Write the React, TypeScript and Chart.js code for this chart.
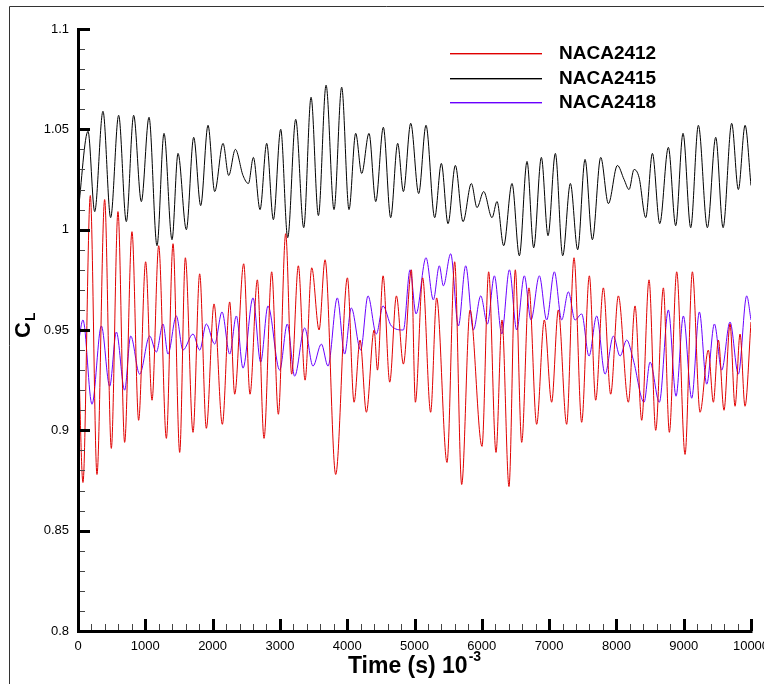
import React, { useEffect, useRef } from "react";
import { Chart, registerables } from "chart.js";

Chart.register(...registerables);

const seriesLabels = ["NACA2412", "NACA2415", "NACA2418"];
const seriesColors = ["#e00000", "#000000", "#6a00ff"];

const xTitle = "Time (s) 10";
const xTitleExp = "-3";
const yTitle = "C";
const yTitleSub = "L";

const naca2412Time = [
  0, 74, 183, 282, 396, 495, 594, 693, 802, 901,
  1005, 1100, 1199, 1313, 1412, 1511, 1595, 1709, 1808, 1907,
  2021, 2145, 2254, 2328, 2462, 2556, 2665, 2764, 2878, 2977,
  3086, 3175, 3274, 3374, 3473, 3582, 3671, 3829, 4003, 4102,
  4191, 4285, 4400, 4450, 4533, 4632, 4731, 4835, 4954, 5013,
  5121, 5240, 5329, 5483, 5597, 5701, 5825, 6003, 6102, 6211,
  6300, 6404, 6498, 6593, 6701, 6815, 6929, 7038, 7137, 7261,
  7370, 7484, 7598, 7692, 7806, 7915, 8029, 8178, 8277, 8376,
  8485, 8584, 8698, 8787, 8896, 9020, 9129, 9243, 9366, 9441,
  9515, 9599, 9688, 9763, 9837, 9911, 10000,
];
const naca2412CL = [
  0.950, 0.874, 1.017, 0.878, 1.015, 0.891, 1.009, 0.894, 0.999, 0.905,
  0.984, 0.915, 0.992, 0.896, 0.993, 0.889, 0.986, 0.899, 0.978, 0.901,
  0.963, 0.903, 0.964, 0.918, 0.983, 0.918, 0.975, 0.896, 0.979, 0.908,
  0.998, 0.928, 0.982, 0.925, 0.981, 0.950, 0.985, 0.878, 0.976, 0.914,
  0.945, 0.909, 0.950, 0.930, 0.977, 0.924, 0.967, 0.933, 0.980, 0.914,
  0.976, 0.909, 0.966, 0.884, 0.984, 0.873, 0.960, 0.892, 0.979, 0.889,
  0.955, 0.872, 0.980, 0.894, 0.971, 0.903, 0.955, 0.914, 0.960, 0.903,
  0.986, 0.904, 0.977, 0.915, 0.971, 0.918, 0.967, 0.914, 0.962, 0.905,
  0.975, 0.900, 0.971, 0.899, 0.979, 0.888, 0.979, 0.909, 0.940, 0.914,
  0.945, 0.910, 0.953, 0.912, 0.948, 0.912, 0.954,
];

const naca2415Time = [
  0, 149, 248, 371, 485, 604, 718, 827, 941, 1055,
  1174, 1278, 1397, 1486, 1610, 1719, 1823, 1932, 2031, 2155,
  2239, 2338, 2452, 2532, 2606, 2705, 2804, 2903, 3012, 3116,
  3235, 3354, 3463, 3572, 3686, 3804, 3918, 4027, 4126, 4215,
  4324, 4424, 4537, 4646, 4750, 4835, 4944, 5062, 5171, 5300,
  5399, 5498, 5607, 5721, 5845, 5929, 6028, 6152, 6226, 6325,
  6449, 6558, 6672, 6771, 6885, 6984, 7093, 7202, 7316, 7425,
  7534, 7643, 7767, 7881, 8015, 8114, 8188, 8262, 8337, 8436,
  8535, 8644, 8772, 8881, 8990, 9104, 9218, 9352, 9476, 9585,
  9713, 9812, 9912, 10000,
];
const naca2415CL = [
  1.008, 1.049, 1.009, 1.059, 1.006, 1.057, 1.004, 1.057, 1.014, 1.056,
  0.992, 1.048, 0.995, 1.038, 1.000, 1.046, 1.012, 1.052, 1.019, 1.043,
  1.027, 1.040, 1.027, 1.023, 1.036, 1.010, 1.043, 1.005, 1.050, 0.996,
  1.055, 1.001, 1.066, 1.007, 1.072, 1.010, 1.071, 1.010, 1.048, 1.028,
  1.048, 1.014, 1.051, 1.006, 1.043, 1.019, 1.053, 1.018, 1.052, 1.006,
  1.033, 1.003, 1.032, 1.004, 1.023, 1.011, 1.019, 1.006, 1.014, 0.992,
  1.023, 0.987, 1.034, 0.991, 1.036, 0.997, 1.038, 0.987, 1.023, 0.990,
  1.035, 0.995, 1.036, 1.013, 1.032, 1.025, 1.020, 1.030, 1.026, 1.006,
  1.038, 1.003, 1.041, 1.002, 1.048, 1.001, 1.052, 1.001, 1.046, 1.001,
  1.053, 1.020, 1.052, 1.022,
];

const naca2418Time = [
  0, 74, 208, 347, 471, 570, 693, 783, 916, 1065,
  1164, 1263, 1337, 1461, 1560, 1709, 1808, 1907, 2031, 2140,
  2254, 2353, 2452, 2600, 2714, 2823, 2997, 3110, 3219, 3368,
  3492, 3616, 3715, 3853, 3962, 4061, 4200, 4309, 4433, 4532,
  4656, 4835, 4934, 5023, 5171, 5280, 5369, 5429, 5538, 5652,
  5761, 5875, 5984, 6083, 6187, 6296, 6410, 6519, 6632, 6731,
  6855, 6964, 7078, 7187, 7286, 7385, 7484, 7593, 7707, 7831,
  7955, 8054, 8153, 8252, 8411, 8500, 8638, 8772, 8886, 8995,
  9119, 9233, 9342, 9456, 9565, 9688, 9812, 9936, 10000,
];
const naca2418CL = [
  0.942, 0.955, 0.913, 0.952, 0.922, 0.949, 0.920, 0.947, 0.928, 0.947,
  0.939, 0.953, 0.938, 0.957, 0.940, 0.948, 0.940, 0.953, 0.943, 0.959,
  0.938, 0.957, 0.931, 0.966, 0.934, 0.962, 0.930, 0.953, 0.927, 0.951,
  0.932, 0.943, 0.932, 0.966, 0.938, 0.961, 0.940, 0.967, 0.948, 0.962,
  0.952, 0.950, 0.980, 0.958, 0.986, 0.965, 0.982, 0.972, 0.988, 0.952,
  0.982, 0.950, 0.967, 0.953, 0.977, 0.948, 0.980, 0.950, 0.977, 0.955,
  0.977, 0.955, 0.979, 0.955, 0.969, 0.955, 0.958, 0.937, 0.957, 0.928,
  0.947, 0.937, 0.945, 0.935, 0.914, 0.934, 0.914, 0.960, 0.917, 0.957,
  0.916, 0.959, 0.923, 0.953, 0.930, 0.954, 0.928, 0.967, 0.955,
];

const X_MIN = 0, X_MAX = 10000, X_MAJOR = 1000, X_MINOR = 200;
const Y_MIN = 0.8, Y_MAX = 1.1, Y_MAJOR = 0.05, Y_MINOR = 0.01;

const FONT = "'Liberation Sans', Arial, Helvetica, sans-serif";

const toPoints = (t: number[], v: number[]) => t.map((x, i) => ({ x, y: v[i] }));

const decoPlugin = {
  id: "deco",
  afterDraw(chart: any) {
    const ctx: CanvasRenderingContext2D = chart.ctx;
    const xs = chart.scales.x;
    const ys = chart.scales.y;
    const x0 = xs.getPixelForValue(X_MIN);
    const x1 = xs.getPixelForValue(X_MAX);
    const y0 = ys.getPixelForValue(Y_MIN);
    const y1 = ys.getPixelForValue(Y_MAX);
    ctx.save();

    // outer frame (top and left)
    ctx.strokeStyle = "#333";
    ctx.lineWidth = 1;
    ctx.beginPath();
    ctx.moveTo(9.5, chart.height);
    ctx.lineTo(9.5, 6.5);
    ctx.lineTo(chart.width, 6.5);
    ctx.stroke();

    // minor ticks
    ctx.strokeStyle = "#444";
    ctx.lineWidth = 1;
    ctx.beginPath();
    for (let v = X_MIN; v <= X_MAX + 1e-6; v += X_MINOR) {
      if (Math.abs(v / X_MAJOR - Math.round(v / X_MAJOR)) < 1e-6) continue;
      const px = Math.round(xs.getPixelForValue(v)) + 0.5;
      ctx.moveTo(px, y0);
      ctx.lineTo(px, y0 - 7);
    }
    for (let k = 0; k <= Math.round((Y_MAX - Y_MIN) / Y_MINOR); k++) {
      if (k % 5 === 0) continue;
      const v = Y_MIN + k * Y_MINOR;
      const py = Math.round(ys.getPixelForValue(v)) + 0.5;
      ctx.moveTo(x0, py);
      ctx.lineTo(x0 + 7, py);
    }
    ctx.stroke();

    // major ticks
    ctx.strokeStyle = "#000";
    ctx.lineWidth = 3;
    ctx.beginPath();
    for (let v = X_MIN; v <= X_MAX + 1e-6; v += X_MAJOR) {
      const px = Math.round(xs.getPixelForValue(v)) + 0.5;
      ctx.moveTo(px, y0);
      ctx.lineTo(px, y0 - 12);
    }
    for (let k = 0; k <= Math.round((Y_MAX - Y_MIN) / Y_MAJOR); k++) {
      const v = Y_MIN + k * Y_MAJOR;
      const py = Math.round(ys.getPixelForValue(v)) + 0.5;
      ctx.moveTo(x0, py);
      ctx.lineTo(x0 + 12, py);
    }
    ctx.stroke();

    // axis lines
    ctx.lineWidth = 3;
    ctx.beginPath();
    ctx.moveTo(Math.round(x0) + 0.5, Math.round(y1) - 1);
    ctx.lineTo(Math.round(x0) + 0.5, Math.round(y0) + 0.5);
    ctx.lineTo(Math.round(x1) + 1.5, Math.round(y0) + 0.5);
    ctx.stroke();

    // x title with exponent
    ctx.fillStyle = "#000";
    ctx.textBaseline = "alphabetic";
    ctx.textAlign = "left";
    const mainFont = `bold 23px ${FONT}`;
    const expFont = `bold 14px ${FONT}`;
    ctx.font = mainFont;
    const wMain = ctx.measureText(xTitle).width;
    ctx.font = expFont;
    const wExp = ctx.measureText(xTitleExp).width;
    const cx = (x0 + x1) / 2;
    const startX = cx - (wMain + 1 + wExp) / 2;
    ctx.font = mainFont;
    ctx.fillText(xTitle, startX, 673);
    ctx.font = expFont;
    ctx.fillText(xTitleExp, startX + wMain + 1, 661);

    // y title with subscript (rotated)
    ctx.save();
    ctx.translate(30, (y0 + y1) / 2 + 8);
    ctx.rotate(-Math.PI / 2);
    ctx.font = `bold 22px ${FONT}`;
    ctx.fillText(yTitle, 0, 0);
    const wC = ctx.measureText(yTitle).width;
    ctx.font = expFont;
    ctx.fillText(yTitleSub, wC + 1, 5);
    ctx.restore();

    // legend
    const legendRows = [53, 78, 102];
    for (let i = 0; i < seriesLabels.length; i++) {
      const color = seriesColors[i];
      ctx.fillStyle = color;
      ctx.fillRect(450, legendRows[i], 92, 1.4);
      ctx.fillStyle = "#000";
      ctx.font = `bold 19px ${FONT}`;
      ctx.textBaseline = "middle";
      ctx.fillText(seriesLabels[i], 559, legendRows[i] + 1);
    }

    ctx.restore();
  },
};

export default function App() {
  const ref = useRef<HTMLCanvasElement | null>(null);

  useEffect(() => {
    if (!ref.current) return;
    const chart = new Chart(ref.current, {
      type: "line",
      data: {
        datasets: [
          { label: seriesLabels[0], data: toPoints(naca2412Time, naca2412CL), borderColor: seriesColors[0] },
          { label: seriesLabels[1], data: toPoints(naca2415Time, naca2415CL), borderColor: seriesColors[1] },
          { label: seriesLabels[2], data: toPoints(naca2418Time, naca2418CL), borderColor: seriesColors[2] },
        ].map((d) => ({
          ...d,
          borderWidth: 1,
          pointRadius: 0,
          fill: false,
          cubicInterpolationMode: "monotone" as const,
        })),
      },
      options: {
        animation: false,
        responsive: false,
        devicePixelRatio: 1,
        parsing: false as any,
        layout: { padding: { left: 8, right: 13, top: 29, bottom: 0 } },
        plugins: { legend: { display: false }, tooltip: { enabled: false } },
        scales: {
          x: {
            type: "linear",
            min: X_MIN,
            max: X_MAX,
            grid: { display: false, drawTicks: false },
            border: { display: false },
            ticks: {
              stepSize: X_MAJOR,
              padding: 8,
              color: "#000",
              maxRotation: 0,
              autoSkip: false,
              font: { family: FONT, size: 13 },
              callback: (v: any) => String(v),
            },
            afterFit: (s: any) => {
              s.height = 53;
              s.paddingLeft = 0;
              s.paddingRight = 0;
            },
          },
          y: {
            type: "linear",
            min: Y_MIN,
            max: Y_MAX,
            grid: { display: false, drawTicks: false },
            border: { display: false },
            ticks: {
              stepSize: Y_MAJOR,
              padding: 9,
              color: "#000",
              autoSkip: false,
              font: { family: FONT, size: 13 },
              callback: (v: any) => String(Number(Number(v).toFixed(2))),
            },
            afterFit: (s: any) => {
              s.width = 70;
              s.paddingTop = 0;
              s.paddingBottom = 0;
            },
          },
        },
      },
      plugins: [decoPlugin],
    });
    return () => chart.destroy();
  }, []);

  return (
    <canvas
      ref={ref}
      width={764}
      height={684}
      style={{ position: "fixed", left: 0, top: 0, width: 764, height: 684, display: "block", background: "#fff" }}
    />
  );
}
